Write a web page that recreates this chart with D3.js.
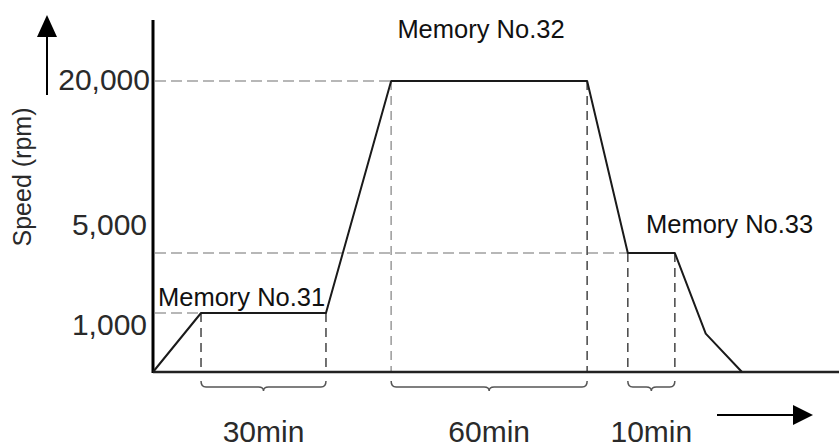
<!DOCTYPE html>
<html>
<head>
<meta charset="utf-8">
<script src="https://cdn.jsdelivr.net/npm/d3@7"></script>
<style>
  html, body { margin: 0; padding: 0; background: #fff; }
  svg { display: block; font-family: "Liberation Sans", Arial, sans-serif; }
</style>
</head>
<body>
<svg id="chart"></svg>
<script>
const width = 839,
  height = 448;

// speed levels shown on the (schematic) y axis
const speedLevels = [0, 1000, 5000, 20000];
const speedLabels = ["1,000", "5,000", "20,000"];

// profile: schematic time units vs speed (rpm)
const timePoints = [0, 9.8, 35.3, 48.6, 88.6, 96.9, 106.5, 112.8, 120.2];
const speedValues = [0, 1000, 1000, 20000, 20000, 5000, 5000, 650, 0];

// hold segments
const segLabels = ["30min", "60min", "10min"];
const segStart = [9.8, 48.6, 96.9];
const segEnd = [35.3, 88.6, 106.5];
const memoryLabels = ["Memory No.31", "Memory No.32", "Memory No.33"];

const svg = d3
  .select("#chart")
  .attr("width", width)
  .attr("height", height);

const x = d3.scaleLinear().domain([0, 140]).range([153, 839]);
const y = d3
  .scaleLinear()
  .domain(speedLevels)
  .range([372, 313, 253, 81]);

const pts = timePoints.map((t, i) => ({ t: t, v: speedValues[i] }));

// guide lines
const light = "#a0a0a0",
  dark = "#505050";

const guides = svg.append("g").attr("fill", "none").attr("stroke-width", 1.6);

// horizontal guides to each speed level
[[20000, segStart[1]], [5000, segStart[2]], [1000, segStart[0]]].forEach(g => {
  guides
    .append("line")
    .attr("x1", x(0) + 2)
    .attr("x2", x(g[1]))
    .attr("y1", y(g[0]))
    .attr("y2", y(g[0]))
    .attr("stroke", light)
    .attr("stroke-dasharray", "11,5");
});

// vertical guides at segment edges
segStart.forEach((s, i) => {
  const level = speedValues[timePoints.indexOf(s)];
  [s, segEnd[i]].forEach((t, j) => {
    guides
      .append("line")
      .attr("x1", x(t))
      .attr("x2", x(t))
      .attr("y1", y(level))
      .attr("y2", y(0))
      .attr("stroke", i === 1 && j === 0 ? light : dark)
      .attr("stroke-dasharray", "9,6");
  });
});

// axes
svg
  .append("line")
  .attr("x1", x(0))
  .attr("x2", x(0))
  .attr("y1", 20)
  .attr("y2", y(0) + 1)
  .attr("stroke", "#000")
  .attr("stroke-width", 3);

svg
  .append("line")
  .attr("x1", x(0))
  .attr("x2", width)
  .attr("y1", y(0))
  .attr("y2", y(0))
  .attr("stroke", "#222")
  .attr("stroke-width", 2.5);

// speed profile
const line = d3
  .line()
  .x(d => x(d.t))
  .y(d => y(d.v));

svg
  .append("path")
  .datum(pts)
  .attr("d", line)
  .attr("fill", "none")
  .attr("stroke", "#1a1a1a")
  .attr("stroke-width", 2)
  .attr("stroke-linejoin", "round");

// tick labels
const tickDy = { "1,000": 22, "5,000": -18, "20,000": 9 };
svg
  .append("g")
  .selectAll("text")
  .data(speedLabels)
  .enter()
  .append("text")
  .attr("x", d => (d === "20,000" ? 150 : 147))
  .attr("y", (d, i) => y(speedLevels[i + 1]) + tickDy[d])
  .attr("text-anchor", "end")
  .attr("font-size", 30)
  .attr("fill", "#2a2a2a")
  .text(d => d);

// y axis title
svg
  .append("text")
  .attr("transform", "translate(31,177) rotate(-90)")
  .attr("text-anchor", "middle")
  .attr("font-size", 25)
  .attr("fill", "#2a2a2a")
  .text("Speed (rpm)");

// braces under each hold segment
const brace = (x1, x2) => {
  const m = (x1 + x2) / 2,
    top = 381,
    mid = 387,
    tip = 391;
  return (
    `M${x1},${top} Q${x1},${mid} ${x1 + 5},${mid} L${m - 5},${mid} ` +
    `Q${m},${mid} ${m},${tip} Q${m},${mid} ${m + 5},${mid} ` +
    `L${x2 - 5},${mid} Q${x2},${mid} ${x2},${top}`
  );
};

svg
  .append("g")
  .selectAll("path")
  .data(segLabels)
  .enter()
  .append("path")
  .attr("d", (d, i) => brace(x(segStart[i]), x(segEnd[i])))
  .attr("fill", "none")
  .attr("stroke", "#555")
  .attr("stroke-width", 1.5);

svg
  .append("g")
  .selectAll("text")
  .data(segLabels)
  .enter()
  .append("text")
  .attr("x", (d, i) => (x(segStart[i]) + x(segEnd[i])) / 2)
  .attr("y", 442)
  .attr("text-anchor", "middle")
  .attr("font-size", 30)
  .attr("fill", "#2a2a2a")
  .text(d => d);

// memory labels
const memPos = [
  { x: 158, y: 306, anchor: "start" },
  { x: 481, y: 38, anchor: "middle" },
  { x: 646, y: 233, anchor: "start" }
];
svg
  .append("g")
  .selectAll("text")
  .data(memoryLabels)
  .enter()
  .append("text")
  .attr("x", (d, i) => memPos[i].x)
  .attr("y", (d, i) => memPos[i].y)
  .attr("text-anchor", (d, i) => memPos[i].anchor)
  .attr("font-size", 25.5)
  .attr("fill", "#111")
  .text(d => d);

// direction arrows
const arrows = svg.append("g").attr("fill", "#000").attr("stroke", "#000");
arrows
  .append("line")
  .attr("x1", 47)
  .attr("x2", 47)
  .attr("y1", 95)
  .attr("y2", 34)
  .attr("stroke-width", 2);
arrows
  .append("path")
  .attr("d", "M37,37 L57,37 L47,15 Z")
  .attr("stroke", "none");
arrows
  .append("line")
  .attr("x1", 717)
  .attr("x2", 796)
  .attr("y1", 415)
  .attr("y2", 415)
  .attr("stroke-width", 2);
arrows
  .append("path")
  .attr("d", "M793,405 L793,425 L813,415 Z")
  .attr("stroke", "none");
</script>
</body>
</html>
